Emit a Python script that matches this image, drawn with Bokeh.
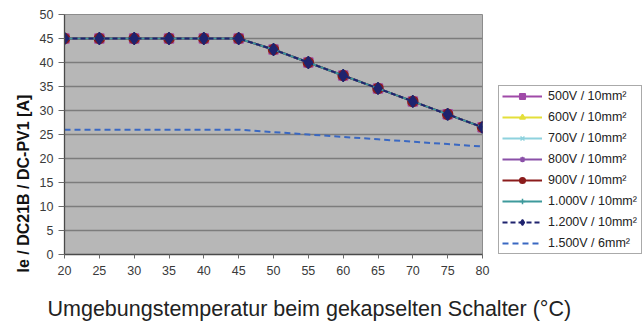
from bokeh.plotting import figure
from bokeh.models import Legend, LegendItem, Title, Range1d, FixedTicker
from bokeh.embed import file_html
from bokeh.resources import INLINE

# ---- data ----
temperature = [20, 25, 30, 35, 40, 45, 50, 55, 60, 65, 70, 75, 80]
current_500v_10mm = [45, 45, 45, 45, 45, 45, 42.7, 40.0, 37.3, 34.6, 31.9, 29.2, 26.5]
current_600v_10mm = [45, 45, 45, 45, 45, 45, 42.7, 40.0, 37.3, 34.6, 31.9, 29.2, 26.5]
current_700v_10mm = [45, 45, 45, 45, 45, 45, 42.7, 40.0, 37.3, 34.6, 31.9, 29.2, 26.5]
current_800v_10mm = [45, 45, 45, 45, 45, 45, 42.7, 40.0, 37.3, 34.6, 31.9, 29.2, 26.5]
current_900v_10mm = [45, 45, 45, 45, 45, 45, 42.7, 40.0, 37.3, 34.6, 31.9, 29.2, 26.5]
current_1000v_10mm = [45, 45, 45, 45, 45, 45, 42.7, 40.0, 37.3, 34.6, 31.9, 29.2, 26.5]
current_1200v_10mm = [45, 45, 45, 45, 45, 45, 42.7, 40.0, 37.3, 34.6, 31.9, 29.2, 26.5]
current_1500v_6mm = [26, 26, 26, 26, 26, 26, 25.5, 25.0, 24.5, 24.0, 23.5, 23.0, 22.5]

series_labels = ["500V / 10mm²", "600V / 10mm²", "700V / 10mm²", "800V / 10mm²",
                 "900V / 10mm²", "1.000V / 10mm²", "1.200V / 10mm²", "1.500V / 6mm²"]
x_ticks = [20, 25, 30, 35, 40, 45, 50, 55, 60, 65, 70, 75, 80]
y_ticks = [0, 5, 10, 15, 20, 25, 30, 35, 40, 45, 50]
x_title = "Umgebungstemperatur beim gekapselten Schalter (°C)"
y_title = "Ie / DC21B / DC-PV1 [A]"

FONT = "Liberation Sans"

p = figure(frame_width=418, frame_height=240, output_backend="svg", toolbar_location=None,
           x_range=Range1d(20, 80), y_range=Range1d(0, 50),
           min_border_left=64, min_border_right=155, min_border_top=14, min_border_bottom=68)
p.background_fill_color = "#b7b7b7"
p.border_fill_color = "white"
p.outline_line_color = "#8c8c8c"
p.outline_line_width = 1

p.xgrid.grid_line_color = None
p.ygrid.grid_line_color = "#7c7c7c"
p.ygrid.grid_line_width = 1.3
p.xaxis.ticker = FixedTicker(ticks=x_ticks)
p.yaxis.ticker = FixedTicker(ticks=y_ticks)
for ax in (p.xaxis[0], p.yaxis[0]):
    ax.axis_line_color = "#4a4a4a"
    ax.axis_line_width = 1.3
    ax.major_tick_line_color = "#6a6a6a"
    ax.minor_tick_line_color = None
    ax.major_tick_in = 0
    ax.major_label_text_font = FONT
    ax.major_label_text_font_size = "12.5px"
    ax.major_label_text_color = "#3a3a3a"
p.xaxis.major_tick_out = 4
p.xaxis.major_label_standoff = 7
p.yaxis.major_tick_out = 6
p.yaxis.major_label_standoff = 5

styles = [
    dict(color="#a04aa8", marker="square", size=9, dash="solid"),
    dict(color="#e4df3a", marker="triangle", size=9, dash="solid"),
    dict(color="#8ed2de", marker="x", size=8, dash="solid"),
    dict(color="#8a50a8", marker="asterisk", size=8, dash="solid"),
    dict(color="#8b1c1c", marker="circle", size=10, dash="solid"),
    dict(color="#3e9a9c", marker="cross", size=8, dash="solid"),
    dict(color="#1f236e", marker="diamond", size=12, dash="5 3"),
]
series = [current_500v_10mm, current_600v_10mm, current_700v_10mm, current_800v_10mm,
          current_900v_10mm, current_1000v_10mm, current_1200v_10mm]

items = []
for lab, ys, st in zip(series_labels[:7], series, styles):
    lr = p.line(temperature, ys, line_color=st["color"], line_width=2, line_dash=st["dash"])
    sr = p.scatter(temperature, ys, marker=st["marker"], size=st["size"],
                   fill_color=st["color"], line_color=st["color"], line_width=1.5)
    items.append(LegendItem(label=lab, renderers=[lr, sr]))

lr15 = p.line(temperature, current_1500v_6mm, line_color="#3a68c2", line_width=2, line_dash="6 4")
items.append(LegendItem(label=series_labels[7], renderers=[lr15]))

legend = Legend(items=items, location=(16, 0))
legend.label_text_font = FONT
legend.label_text_font_size = "12.5px"
legend.label_text_color = "#222222"
legend.glyph_width = 40
legend.glyph_height = 14
legend.label_height = 14
legend.label_width = 90
legend.spacing = 7
legend.padding = 3
legend.margin = 0
legend.label_standoff = 6
legend.border_line_color = "#555555"
legend.border_line_width = 1
legend.background_fill_color = "white"
legend.background_fill_alpha = 1
p.add_layout(legend, "right")

# axis titles
p.add_layout(Title(text=x_title, align="left", offset=-17, vertical_align="bottom",
                   text_font=FONT, text_font_size="21.5px", text_font_style="normal",
                   text_color="#222222", standoff=34), "below")
p.add_layout(Title(text=y_title, align="left", offset=-18, vertical_align="bottom",
                   text_font=FONT, text_font_size="16px", text_font_style="bold",
                   text_color="#111111", standoff=9), "left")

open("out.html", "w").write(file_html(p, INLINE))
